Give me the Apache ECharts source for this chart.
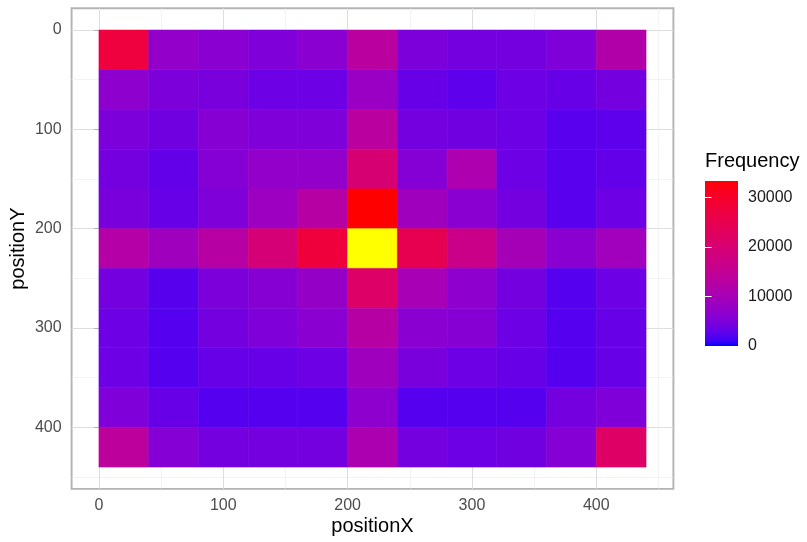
<!DOCTYPE html>
<html>
<head>
<meta charset="utf-8">
<script src="https://cdn.jsdelivr.net/npm/echarts@6/dist/echarts.min.js"></script>
<style>
html,body{margin:0;padding:0;background:#ffffff;}
#chart{width:807px;height:542px;}
</style>
</head>
<body>
<div id="chart"></div>
<script>
// ---------------- data ----------------
const binSize = 40;
const xBins = [0, 40, 80, 120, 160, 200, 240, 280, 320, 360, 400];
const yBins = [0, 40, 80, 120, 160, 200, 240, 280, 320, 360, 400];
// frequency[row][col] : row = positionY bin, col = positionX bin
const frequency = [
  [27300, 7300, 6300, 5300, 6300, 13300, 5000, 4300, 4300, 5300, 12000],
  [ 6700, 5000, 4700, 3700, 3700,  8300, 3300, 2700, 3700, 3300,  4300],
  [ 5000, 4000, 6000, 5300, 5300, 13300, 4300, 4000, 3700, 2400,  2700],
  [ 4300, 3000, 5700, 7300, 7300, 20000, 5700,11300, 3700, 2400,  3000],
  [ 4700, 3300, 5300, 8700,12700, 33300, 9000, 6300, 4300, 2400,  3700],
  [12300, 9000,12700,19300,27600, 52000,25000,16700,10000, 6300,  9300],
  [ 4300, 2300, 5000, 6000, 7700, 21600,10300, 6700, 4300, 2200,  3700],
  [ 3700, 2200, 4300, 5300, 6300, 12700, 6300, 6000, 3700, 2200,  3300],
  [ 3700, 2200, 3300, 3300, 3700,  9000, 4700, 3700, 3300, 2200,  3300],
  [ 5300, 3300, 2200, 2200, 2200,  6700, 2200, 2200, 2200, 4300,  5300],
  [14000, 5700, 4300, 4300, 4300, 11000, 4300, 3700, 4000, 5700, 22000]
];
const xTicks = [0, 100, 200, 300, 400];
const yTicks = [0, 100, 200, 300, 400];
const xMinorLines = [50, 150, 250, 350, 450];
const yMinorLines = [50, 150, 250, 350, 450];
const legendTicks = [0, 10000, 20000, 30000];
const legendInnerTicks = [10000, 20000, 30000];
const scaleMin = 0;
const scaleMax = 33300;
const axisMin = -22;
const axisMax = 462;

// ---------------- colour scale (Lab interpolation like ggplot) ----------------
const lowColor = '#0000FF', highColor = '#FF0000', overColor = '#FFFF00';
function toLin(c){c/=255;return c<=0.04045?c/12.92:Math.pow((c+0.055)/1.055,2.4);}
function toS(v){v=v<=0.0031308?12.92*v:1.055*Math.pow(v,1/2.4)-0.055;return Math.round(Math.max(0,Math.min(1,v))*255);}
const Xn=0.95047,Yn=1.0,Zn=1.08883;
function fL(t){return t>0.008856?Math.cbrt(t):(7.787*t+16/116);}
function fInv(t){const t3=t*t*t;return t3>0.008856?t3:(t-16/116)/7.787;}
function hexToLab(h){
  const r=toLin(parseInt(h.substr(1,2),16)),g=toLin(parseInt(h.substr(3,2),16)),b=toLin(parseInt(h.substr(5,2),16));
  const X=0.4124*r+0.3576*g+0.1805*b,Y=0.2126*r+0.7152*g+0.0722*b,Z=0.0193*r+0.1192*g+0.9505*b;
  const fx=fL(X/Xn),fy=fL(Y/Yn),fz=fL(Z/Zn);
  return [116*fy-16,500*(fx-fy),200*(fy-fz)];
}
function labToHex(L,a,bb){
  const fy=(L+16)/116,fx=fy+a/500,fz=fy-bb/200;
  const X=Xn*fInv(fx),Y=Yn*fInv(fy),Z=Zn*fInv(fz);
  const r=3.2406*X-1.5372*Y-0.4986*Z,g=-0.9689*X+1.8758*Y+0.0415*Z,b=0.0557*X-0.2040*Y+1.0570*Z;
  return '#'+[toS(r),toS(g),toS(b)].map(v=>v.toString(16).padStart(2,'0')).join('');
}
const labLo=hexToLab(lowColor),labHi=hexToLab(highColor);
const nStops=40;
const rampColors=[];
for(let i=0;i<=nStops;i++){
  const t=i/nStops;
  rampColors.push(labToHex(labLo[0]+(labHi[0]-labLo[0])*t,labLo[1]+(labHi[1]-labLo[1])*t,labLo[2]+(labHi[2]-labLo[2])*t));
}

// ---------------- build series data ----------------
const cells=[];
yBins.forEach((y,ri)=>{xBins.forEach((x,ci)=>{cells.push([x,y,frequency[ri][ci]]);});});

// ---------------- layout ----------------
const FONT='"Liberation Sans", Arial, Helvetica, sans-serif';
const panel={left:71.6,top:8.2,width:601.8,height:480.7};
const leg={left:705,top:181,width:33,height:165};

const chart=echarts.init(document.getElementById('chart'),null,{renderer:'canvas'});

const tickStyle={show:true,length:5,lineStyle:{color:'#B3B3B3',width:1}};
const option={
  animation:false,
  backgroundColor:'#ffffff',
  grid:[
    {left:panel.left,top:panel.top,width:panel.width,height:panel.height,show:true,backgroundColor:'#ffffff',borderColor:'#B3B3B3',borderWidth:1.9,containLabel:false,outerBoundsMode:'none'},
    {left:leg.left,top:leg.top,width:leg.width,height:leg.height,show:false,containLabel:false,outerBoundsMode:'none'}
  ],
  xAxis:[
    {type:'value',gridIndex:0,min:axisMin,max:axisMax,
     name:'positionX',nameLocation:'middle',nameGap:28,nameMoveOverlap:false,
     nameTextStyle:{fontFamily:FONT,fontSize:20,color:'#000000'},
     axisLine:{show:false},
     axisTick:Object.assign({customValues:xTicks},tickStyle),
     axisLabel:{customValues:xTicks,margin:9,fontFamily:FONT,fontSize:16,color:'#4D4D4D'},
     splitLine:{show:true,lineStyle:{color:'#DEDEDE',width:1}}},
    {type:'value',gridIndex:0,min:axisMin,max:axisMax,position:'top',
     axisLine:{show:false},axisTick:{show:false,customValues:xMinorLines},axisLabel:{show:false,customValues:xMinorLines},
     splitLine:{show:true,lineStyle:{color:'#EBEBEB',width:0.6}}},
    {type:'value',gridIndex:1,min:0,max:1,show:false}
  ],
  yAxis:[
    {type:'value',gridIndex:0,min:axisMin,max:axisMax,inverse:true,
     name:'positionY',nameLocation:'middle',nameGap:43,nameRotate:90,nameMoveOverlap:false,
     nameTextStyle:{fontFamily:FONT,fontSize:20,color:'#000000'},
     axisLine:{show:false},
     axisTick:Object.assign({customValues:yTicks},tickStyle),
     axisLabel:{customValues:yTicks,margin:10,fontFamily:FONT,fontSize:16,color:'#4D4D4D'},
     splitLine:{show:true,lineStyle:{color:'#DEDEDE',width:1}}},
    {type:'value',gridIndex:0,min:axisMin,max:axisMax,inverse:true,position:'right',
     axisLine:{show:false},axisTick:{show:false,customValues:yMinorLines},axisLabel:{show:false,customValues:yMinorLines},
     splitLine:{show:true,lineStyle:{color:'#EBEBEB',width:0.6}}},
    {type:'value',gridIndex:1,min:scaleMin,max:scaleMax,position:'right',
     axisLine:{show:false},
     axisTick:{show:true,inside:true,length:6.6,customValues:legendInnerTicks,lineStyle:{color:'#ffffff',width:1}},
     axisLabel:{customValues:legendTicks,margin:10,fontFamily:FONT,fontSize:16,color:'#1A1A1A',formatter:function(v){return String(v);}},
     splitLine:{show:false},z:5},
    {type:'value',gridIndex:1,min:scaleMin,max:scaleMax,position:'left',
     axisLine:{show:false},
     axisTick:{show:true,inside:true,length:6.6,customValues:legendInnerTicks,lineStyle:{color:'#ffffff',width:1}},
     axisLabel:{show:false},
     splitLine:{show:false},z:5}
  ],
  visualMap:{
    type:'continuous',show:false,seriesIndex:0,dimension:2,
    min:scaleMin,max:scaleMax+1,range:[scaleMin,scaleMax],
    inRange:{color:rampColors},
    outOfRange:{color:overColor}
  },
  graphic:[
    {type:'rect',left:leg.left,top:leg.top,z:1,
     shape:{width:leg.width,height:leg.height},
     style:{fill:new echarts.graphic.LinearGradient(0,1,0,0,rampColors.map((c,i)=>({offset:i/nStops,color:c})))}},
    {type:'text',left:leg.left,top:151,z:2,
     style:{text:'Frequency',fontFamily:FONT,fontSize:20,fill:'#000000'}}
  ],
  series:[{
    type:'custom',xAxisIndex:0,yAxisIndex:0,z:3,
    data:cells,
    encode:{x:0,y:1},
    renderItem:function(params,api){
      const x=api.value(0),y=api.value(1);
      const p0=api.coord([x,y]),p1=api.coord([x+binSize,y+binSize]);
      const c=api.visual('color');
      return {type:'rect',
        shape:{x:Math.min(p0[0],p1[0]),y:Math.min(p0[1],p1[1]),width:Math.abs(p1[0]-p0[0]),height:Math.abs(p1[1]-p0[1])},
        style:{fill:c,stroke:c,lineWidth:0.6}};
    }
  }]
};
chart.setOption(option);
</script>
</body>
</html>
